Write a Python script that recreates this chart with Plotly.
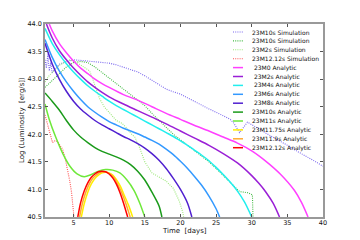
import plotly.graph_objects as go

# ---------------- data ----------------
names = ["23M10s Simulation", "23M10s Simulation", "23M2s Simulation", "23M12.12s Simulation",
         "\u00a023M0 Analytic", "\u00a023M2s Analytic", "\u00a023M4s Analytic", "\u00a023M6s Analytic",
         "\u00a023M8s Analytic", "23M10s Analytic", "23M11s Analytic", "23M11.75s Analytic",
         "23M11.9s Analytic", "23M12.12s Analytic"]
colors = ["#7b68ee", "#44bb44", "#9de87a", "#ff5050",
          "#ff40ff", "#9a1fd6", "#22eeee", "#3399ff", "#5020d0",
          "#1a9a1a", "#6ee83a", "#ffee00", "#ffaa33", "#ff0000"]
dotted = [True, True, True, True] + [False] * 10

sim_blue_t = [1.0, 1.2, 1.4, 1.6, 1.8, 2.0, 2.5, 3, 4, 5, 6, 7, 8, 9, 10, 11, 12, 13, 14, 15, 16, 17,
              18, 19, 20, 21, 22, 23, 24, 25, 26, 27, 27.5, 28.3, 29.4, 30, 31, 32, 33, 34, 35, 36,
              37, 38, 39, 40]
sim_blue_l = [43.35, 43.2, 43.45, 43.15, 43.3, 43.12, 43.2, 43.27, 43.32, 43.35, 43.34, 43.33,
              43.32, 43.31, 43.29, 43.26, 43.22, 43.18, 43.13, 43.06, 42.98, 42.9, 42.82, 42.77,
              42.73, 42.66, 42.59, 42.52, 42.46, 42.4, 42.33, 42.27, 42.2, 42.03, 42.22, 42.17,
              42.1, 42.02, 41.95, 41.87, 41.8, 41.72, 41.65, 41.57, 41.5, 41.42]

sim_green_t = [1, 2, 3, 4, 5, 6, 7, 8, 9, 10, 11, 12, 13, 14, 15, 16, 17, 18, 19, 20, 21, 22, 23,
               24, 25, 26, 27, 28, 28.3, 29.5, 30.1, 30.2]
sim_green_l = [42.85, 42.97, 43.1, 43.22, 43.3, 43.32, 43.3, 43.22, 43.12, 43.02, 42.92, 42.82,
               42.72, 42.62, 42.52, 42.38, 42.25, 42.12, 42.0, 41.9, 41.8, 41.7, 41.6, 41.5,
               41.38, 41.25, 41.12, 41.0, 40.96, 40.94, 40.9, 40.4]

sim_lgreen_t = [1, 1.5, 2, 3, 4, 4.5, 5.5, 6.5, 7.25, 7.7, 8.2, 8.65, 9.3, 10, 11, 11.8, 12.4,
                13, 13.6, 14.3, 15, 16, 17, 18, 19, 19.8, 20.3, 20.6]
sim_lgreen_l = [42.95, 43.05, 43.12, 43.25, 43.32, 43.35, 43.3, 43.22, 43.15, 43.0, 42.8, 42.65,
                42.5, 42.4, 42.25, 42.2, 42.12, 42.02, 41.95, 41.75, 41.5, 41.3, 41.22, 41.15,
                41.02, 40.8, 40.6, 40.4]

sim_red_t = [1.0, 1.3, 1.63, 2.05, 2.4, 2.76, 3.1, 3.46, 3.8, 4.16, 4.45, 4.72, 4.95, 5.14]
sim_red_l = [42.35, 42.2, 42.03, 41.85, 41.88, 41.87, 41.8, 41.73, 41.58, 41.37, 41.17, 40.95,
             40.7, 40.4]

m0_t = [1.6, 2, 3, 4, 5, 6, 7, 8, 9, 10, 12, 14, 16, 18, 20, 22, 24, 26, 28, 30, 32, 34, 36, 37, 37.9]
m0_l = [44.0, 43.88, 43.65, 43.48, 43.33, 43.2, 43.1, 43.0, 42.92, 42.85, 42.72, 42.62, 42.5,
        42.38, 42.27, 42.16, 42.06, 41.95, 41.84, 41.7, 41.51, 41.28, 40.98, 40.76, 40.5]

m2_t = [1.2, 2, 3, 4, 5, 6, 7, 8, 9, 10, 12, 14, 16, 18, 20, 22, 24, 26, 28, 30, 31, 32, 33, 33.9]
m2_l = [44.0, 43.75, 43.52, 43.35, 43.2, 43.07, 42.95, 42.85, 42.76, 42.68, 42.55, 42.43, 42.31,
        42.19, 42.06, 41.93, 41.8, 41.65, 41.48, 41.25, 41.11, 40.95, 40.75, 40.5]

m4_t = [1, 2, 3, 4, 5, 6, 7, 8, 9, 10, 11, 12, 13, 14, 15, 16, 17, 18, 19, 20, 21, 22, 23, 24, 25,
        26, 27, 28, 29, 30]
m4_l = [43.92, 43.65, 43.45, 43.28, 43.13, 43.0, 42.88, 42.78, 42.69, 42.6, 42.52, 42.45, 42.38,
        42.31, 42.24, 42.17, 42.1, 42.03, 41.96, 41.88, 41.8, 41.71, 41.62, 41.52, 41.4, 41.27,
        41.13, 40.97, 40.77, 40.5]

m6_t = [1, 2, 3, 4, 5, 6, 7, 8, 9, 10, 11, 12, 13, 14, 15, 16, 17, 18, 19, 20, 21, 22, 23, 24,
        25, 25.5]
m6_l = [43.72, 43.4, 43.15, 42.95, 42.78, 42.63, 42.5, 42.4, 42.31, 42.23, 42.17, 42.11, 42.06,
        42.01, 41.95, 41.89, 41.82, 41.73, 41.63, 41.51, 41.38, 41.23, 41.07, 40.88, 40.65, 40.5]

m8_t = [1, 2, 3, 4, 5, 6, 7, 8, 9, 10, 11, 12, 13, 14, 15, 16, 17, 18, 19, 20, 21, 21.6]
m8_l = [43.65, 43.28, 43.0, 42.78, 42.6, 42.46, 42.35, 42.25, 42.17, 42.1, 42.03, 41.96, 41.9,
        41.83, 41.75, 41.65, 41.53, 41.38, 41.2, 41.0, 40.75, 40.5]

m10_t = [1, 2, 3, 4, 5, 6, 7, 8, 9, 10, 11, 12, 13, 14, 15, 16, 17, 17.4]
m10_l = [42.75, 42.6, 42.44, 42.25, 42.08, 41.95, 41.85, 41.76, 41.69, 41.64, 41.59, 41.53,
         41.45, 41.33, 41.17, 40.95, 40.7, 40.5]

m11_t = [1, 1.6, 2.5, 3.5, 4.5, 5.5, 6.5, 7.5, 8.5, 9.5, 10.5, 11.5, 12.5, 13.5, 14.3, 15]
m11_l = [42.55, 42.27, 41.95, 41.65, 41.42, 41.28, 41.23, 41.27, 41.33, 41.36, 41.35, 41.3,
         41.17, 40.98, 40.75, 40.5]

m1175_t = [6.1, 6.5, 7.0, 7.5, 8.0, 8.5, 9.0, 9.5, 10.0, 10.5, 11.0, 11.6, 12.1, 12.7, 13.3]
m1175_l = [40.5, 40.74, 40.95, 41.1, 41.2, 41.26, 41.3, 41.31, 41.3, 41.26, 41.18, 41.05, 40.9,
           40.72, 40.5]

m119_t = [5.85, 6.25, 6.75, 7.25, 7.75, 8.25, 8.75, 9.25, 9.75, 10.25, 10.75, 11.25, 11.8, 12.35, 12.95]
m119_l = [40.5, 40.75, 40.96, 41.11, 41.21, 41.27, 41.31, 41.32, 41.31, 41.27, 41.2, 41.08, 40.93,
          40.74, 40.5]

m1212_t = [5.6, 6.0, 6.5, 7.0, 7.5, 8.0, 8.5, 9.0, 9.5, 10.0, 10.5, 11.0, 11.5, 12.0, 12.6]
m1212_l = [40.5, 40.76, 40.97, 41.12, 41.22, 41.28, 41.32, 41.33, 41.32, 41.28, 41.21, 41.1,
           40.95, 40.76, 40.5]

series_t = [sim_blue_t, sim_green_t, sim_lgreen_t, sim_red_t, m0_t, m2_t, m4_t, m6_t, m8_t,
            m10_t, m11_t, m1175_t, m119_t, m1212_t]
series_l = [sim_blue_l, sim_green_l, sim_lgreen_l, sim_red_l, m0_l, m2_l, m4_l, m6_l, m8_l,
            m10_l, m11_l, m1175_l, m119_l, m1212_l]

x_ticks = [5, 10, 15, 20, 25, 30, 35, 40]
y_ticks = [40.5, 41.0, 41.5, 42.0, 42.5, 43.0, 43.5, 44.0]
x_title = "Time  [days]"
y_title = "Log (Luminosity  [erg/s])"

# ---------------- figure ----------------
FONT = "DejaVu Sans"
DOT = "1px,1.2px"
# the page body has an 8px default margin; size the figure so it fills the 360x240 window
OFF = 8
W, H = 360 - OFF, 240 - OFF
# plot box in window pixels: left 45, right 323, top 24, bottom 217
L, T = 45 - OFF, 24 - OFF
R, B = W - (323 - OFF), H - (217 - OFF)
pw, ph = W - L - R, H - T - B


def px2paper(px, py):
    """window pixel -> paper coordinates"""
    return (px - OFF - L) / pw, (H - B - (py - OFF)) / ph


fig = go.Figure()
for t, l, n, c, d in zip(series_t, series_l, names, colors, dotted):
    fig.add_trace(go.Scatter(
        x=t, y=l, mode="lines", name=n, showlegend=False,
        line=dict(color=c, width=1.1 if d else 1.5, dash=DOT if d else "solid",
                  shape="linear" if d else "spline", smoothing=0.8),
    ))

# hand-built legend (matplotlib-like compact spacing)
for i, (n, c, d) in enumerate(zip(names, colors, dotted)):
    py = 32 + 8.9 * i
    x0, y0 = px2paper(233, py)
    x1, _ = px2paper(243, py)
    fig.add_shape(type="line", xref="paper", yref="paper", x0=x0, x1=x1, y0=y0, y1=y0,
                  line=dict(color=c, width=1.1 if d else 1.5, dash=DOT if d else "solid"))
    tx, _ = px2paper(250, py)
    fig.add_annotation(xref="paper", yref="paper", x=tx, y=y0, text=n, showarrow=False,
                       xanchor="left", yanchor="middle",
                       font=dict(family=FONT, size=6, color="#111"))

# axis titles placed like the reference
xt, yt = px2paper(184, 231)
fig.add_annotation(xref="paper", yref="paper", x=xt, y=yt, text=x_title, showarrow=False,
                   xanchor="center", yanchor="middle", font=dict(family=FONT, size=7, color="#111"))
xt, yt = px2paper(22, 120)
fig.add_annotation(xref="paper", yref="paper", x=xt, y=yt, text=y_title, showarrow=False,
                   textangle=-90, xanchor="center", yanchor="middle",
                   font=dict(family=FONT, size=7, color="#111"))

axis_common = dict(showgrid=False, zeroline=False, showline=True, linecolor="#999999",
                   linewidth=1.5, mirror="ticks", ticks="inside", ticklen=3, tickwidth=0.8,
                   tickcolor="#555555", tickfont=dict(family=FONT, size=6.5, color="#111"),
                   automargin=False)

fig.update_layout(
    width=W, height=H,
    margin=dict(l=L, r=R, t=T, b=B, pad=0),
    paper_bgcolor="white", plot_bgcolor="white",
    xaxis=dict(range=[1, 40], tickvals=x_ticks, ticktext=[str(v) for v in x_ticks],
               ticklabelstandoff=-2, **axis_common),
    yaxis=dict(range=[40.5, 44.0], tickvals=y_ticks, ticktext=[f"{v:.1f}" for v in y_ticks],
               **axis_common),
    showlegend=False,
)

fig.write_html("out.html")
